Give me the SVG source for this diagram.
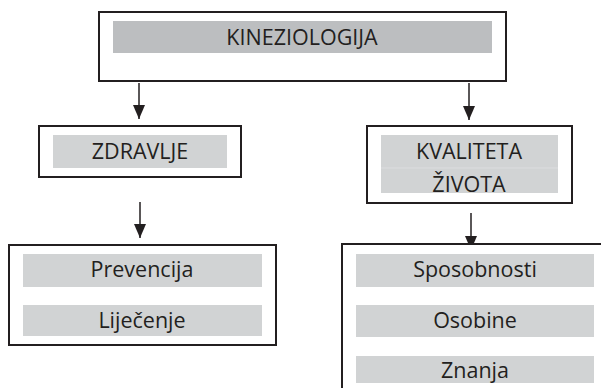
<svg xmlns="http://www.w3.org/2000/svg" width="601" height="388" viewBox="0 0 601 388">
<style>
.box{fill:#fff;stroke:#231f20;stroke-width:2}
.band1{fill:#bcbec0}
.band{fill:#d1d3d4}
.t{font-family:"Open Sans","Liberation Sans",sans-serif;font-size:21.5px;fill:#231f20;text-anchor:middle}
.c{stroke:#231f20;stroke-width:1.5;fill:none;marker-end:url(#ah)}
</style>
<defs>
<marker id="ah" markerUnits="userSpaceOnUse" markerWidth="14" markerHeight="12" refX="14" refY="6" orient="auto">
<path d="M0,0 L14,6 L0,12 Z" fill="#231f20"/>
</marker>
</defs>
<rect width="601" height="388" fill="#fff"/>
<g id="connectors">
<line class="c" x1="139" y1="83" x2="139" y2="119"/>
<line class="c" x1="469" y1="83" x2="469" y2="120"/>
<line class="c" x1="140" y1="202" x2="140" y2="238"/>
<line class="c" x1="471" y1="213" x2="471" y2="250"/>
</g>
<g id="kineziologija">
<rect class="box" x="99" y="12" width="407" height="69"/>
<rect class="band1" x="113" y="21" width="379" height="32"/>
<text class="t" x="302" y="45">KINEZIOLOGIJA</text>
</g>
<g id="zdravlje">
<rect class="box" x="39" y="126" width="202" height="51"/>
<rect class="band" x="53" y="135" width="174" height="33"/>
<text class="t" x="140" y="159">ZDRAVLJE</text>
</g>
<g id="kvaliteta">
<rect class="box" x="367" y="126" width="205" height="77"/>
<rect class="band" x="381" y="135" width="177" height="58"/>
<line x1="381" y1="168" x2="558" y2="168" stroke="#e0e1e2" stroke-width="0.8"/>
<text class="t" x="469" y="159">KVALITETA</text>
<text class="t" x="469" y="192">ŽIVOTA</text>
</g>
<g id="zdravlje-list">
<rect class="box" x="9" y="245" width="267" height="100"/>
<rect class="band" x="23" y="254" width="239" height="33"/>
<rect class="band" x="23" y="305" width="239" height="31"/>
<text class="t" x="142" y="277">Prevencija</text>
<text class="t" x="142" y="328">Liječenje</text>
</g>
<g id="kvaliteta-list">
<rect class="box" x="342" y="244" width="300" height="200"/>
<rect class="band" x="356" y="254" width="238" height="33"/>
<rect class="band" x="356" y="305" width="238" height="32"/>
<rect class="band" x="356" y="356" width="238" height="27"/>
<text class="t" x="475" y="277">Sposobnosti</text>
<text class="t" x="475" y="328">Osobine</text>
<text class="t" x="475" y="378">Znanja</text>
</g>
</svg>
